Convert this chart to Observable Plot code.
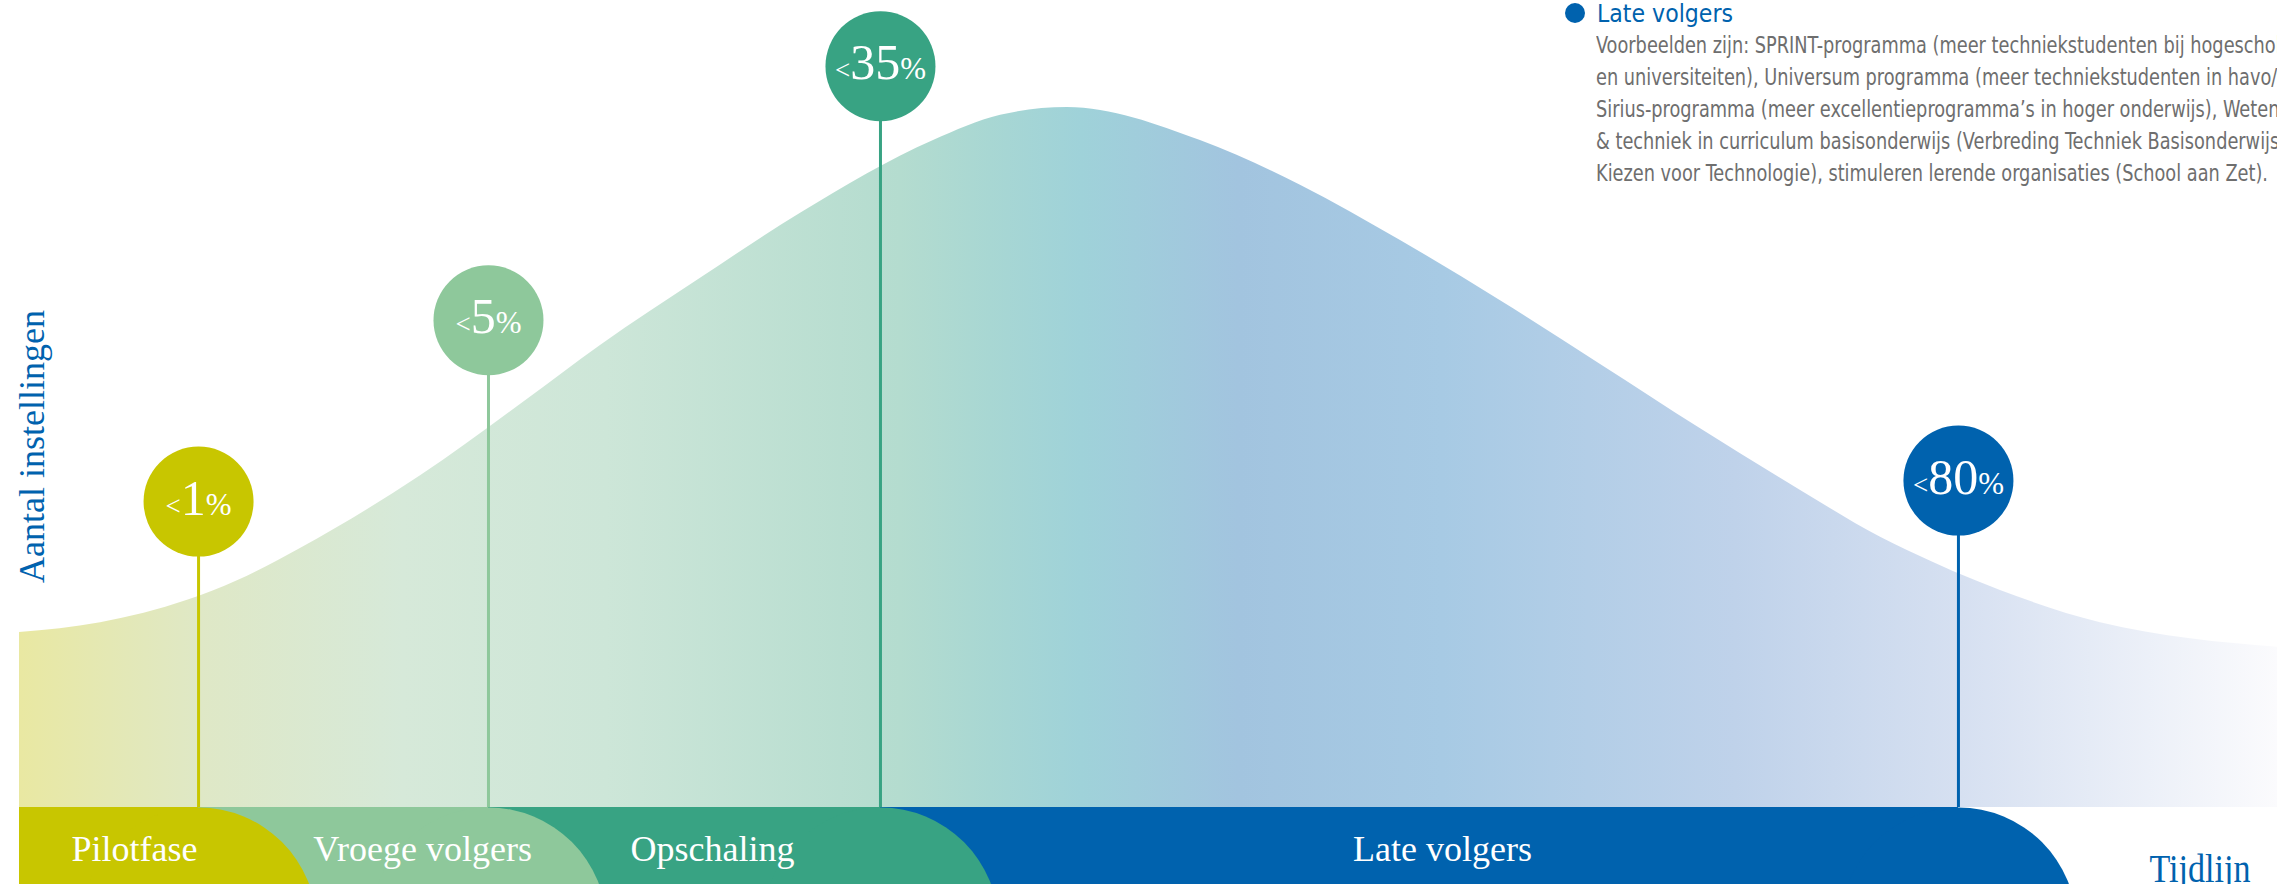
<!DOCTYPE html>
<html><head><meta charset="utf-8">
<script src="https://cdn.jsdelivr.net/npm/d3@7"></script>
<script src="https://cdn.jsdelivr.net/npm/@observablehq/plot@0.6"></script>
<style>
html,body{margin:0;padding:0;background:#fff;overflow:hidden}
#wrap{position:relative;width:2277px;height:884px;overflow:hidden;background:#fff}
#chart svg{display:block}
#legend{position:absolute;left:0;top:0;width:2277px;height:200px;pointer-events:none}
.bullet{position:absolute;left:1565px;top:3px;width:20px;height:20px;border-radius:50%;background:#0062ae}
.ltitle{position:absolute;left:1597px;top:0px;font-size:24px;line-height:29px;font-family:"Liberation Sans Narrow","Arial Narrow","DejaVu Sans Condensed",sans-serif;color:#0062ae;white-space:nowrap;transform-origin:0 0}
.lline{position:absolute;left:1596px;font-size:23px;line-height:32px;font-family:"Liberation Sans Narrow","Arial Narrow","DejaVu Sans Condensed",sans-serif;color:#6e6e6e;white-space:nowrap;transform-origin:0 0}
</style></head><body>
<div id="wrap"><div id="chart"></div><div id="legend"></div></div>
<script>
// ---- data ----
const phaseNames = ["Pilotfase", "Vroege volgers", "Opschaling", "Late volgers"];
const phaseColors = ["#c8c600", "#8ec89b", "#38a383", "#0062ae"];
const reachLabels = ["<1%", "<5%", "<35%", "<80%"];
const reachTime = [7.93, 20.77, 38.13, 85.87];      // moment on the timeline (0-100)
const markerHeight = [43.7, 69.6, 105.9, 46.7];     // height of the marker bubble
const phaseLabelTime = [5.09, 17.85, 30.69, 63.02]; // centre of phase label

const curveTime  = [0, 3.59, 7.44, 9.65, 12.44, 17.76, 22.41, 25.73, 30.16, 34.59, 40.48, 43.45, 46.41, 52.30, 56.73, 61.16, 65.59, 70.02, 74.45, 78.88, 82.42, 83.61, 87.73, 92.16, 96.15, 100];
const curveValue = [25.0, 26.4, 29.6, 32.4, 37.0, 47.4, 58.1, 66.0, 75.6, 84.9, 95.3, 98.9, 100, 95.3, 88.9, 81.0, 72.4, 63.3, 54.1, 45.3, 38.6, 36.7, 31.0, 26.4, 24.1, 22.9];

const axisLabelY = "Aantal instellingen";
const axisLabelX = "Tijdlijn";
const legendTitle = "Late volgers";
const legendText = [
  "Voorbeelden zijn: SPRINT-programma (meer techniekstudenten bij hogescholen",
  "en universiteiten), Universum programma (meer techniekstudenten in havo/vwo),",
  "Sirius-programma (meer excellentieprogramma’s in hoger onderwijs), Wetenschap",
  "& techniek in curriculum basisonderwijs (Verbreding Techniek Basisonderwijs,",
  "Kiezen voor Technologie), stimuleren lerende organisaties (School aan Zet)."
];

// ---- layout ----
const W = 2277, H = 884, mT = 107, mB = 77, mL = 19;
const pxPerUnit = (H - mT - mB) / 100;
const R = 118;                 // rounding radius of phase bands (px)
const bandBottom = -(mB + 12) / pxPerUnit;
const bandLabelBaseline = -53 / pxPerUnit;
const blue = "#0062ae";
const serif = "'Liberation Serif', 'DejaVu Serif', serif";

const gradStops = [
  [0, "#e9e8a2"], [0.08, "#dfe8c6"], [0.17, "#d6e9d9"], [0.26, "#cde6d8"],
  [0.39, "#b4dccf"], [0.43, "#a8d7d3"], [0.47, "#9fd2d9"], [0.54, "#a2c4df"],
  [0.63, "#a7cae4"], [0.76, "#bfd2ea"], [0.86, "#d6e0f1"], [1, "#fbfbfd"]
];

const phases = phaseNames.map((name, i) => ({
  name, color: phaseColors[i], label: reachLabels[i],
  t: reachTime[i], h: markerHeight[i], lt: phaseLabelTime[i]
}));
const curve = curveTime.map((t, i) => ({t, v: curveValue[i]}));

const defs = () => {
  const d = d3.create("svg:defs");
  const g = d.append("linearGradient").attr("id", "bellGrad")
    .attr("x1", 0).attr("x2", 1).attr("y1", 0).attr("y2", 0);
  for (const [o, c] of gradStops) g.append("stop").attr("offset", o).attr("stop-color", c);
  return d.node();
};

const bandMarks = phases.slice().reverse().flatMap(p => [
  Plot.rect([p], {x1: () => 0, x2: "t", y1: () => bandBottom, y2: () => 0, fill: p.color}),
  Plot.dot([p], {x: "t", y: () => -R / pxPerUnit, r: R, fill: p.color})
]);

const svg = Plot.plot({
  width: W, height: H,
  marginLeft: mL, marginRight: 0, marginTop: mT, marginBottom: mB,
  x: {domain: [0, 100], axis: null},
  y: {domain: [0, 100], axis: null},
  color: {type: "identity"},
  style: {background: "#fff"},
  marks: [
    defs,
    Plot.areaY(curve, {x: "t", y: "v", fill: "url(#bellGrad)", curve: "monotone-x"}),
    ...bandMarks,
    Plot.ruleX(phases, {x: "t", y1: () => 0, y2: "h", stroke: "color", strokeWidth: 3}),
    Plot.dot(phases, {x: "t", y: "h", r: 55, fill: "color"}),
    Plot.text(phases, {x: "t", y: "h", text: "label", fill: "white", dy: 13, lineAnchor: "bottom", fontFamily: serif, fontSize: 40}),
    Plot.text(phases, {x: "lt", y: () => bandLabelBaseline, text: "name", fill: "white", fontSize: 36, fontFamily: serif, lineAnchor: "bottom"}),
    Plot.text([axisLabelX], {frameAnchor: "bottom-right", text: d => d, textAnchor: "end", dx: -27, dy: 74, lineAnchor: "bottom", fill: blue, fontSize: 40, fontFamily: serif}),
    Plot.text([axisLabelY], {frameAnchor: "left", text: d => d, textAnchor: "middle", rotate: -90, dx: 24, dy: -11, lineAnchor: "bottom", fill: blue, fontSize: 36, fontFamily: serif})
  ]
});

const s = d3.select(svg);
// mixed-size percentages inside the bubbles
s.selectAll("text").filter(function () { return /^<\d+%$/.test(this.textContent); }).each(function () {
  const m = this.textContent.match(/^<(\d+)%$/);
  const t = d3.select(this); t.text("");
  t.append("tspan").attr("font-size", 27).text("<");
  t.append("tspan").attr("font-size", 50).attr("font-weight", 500).text(m[1]);
  t.append("tspan").attr("font-size", 31).text("%");
});
// narrow timeline label
s.selectAll("text").filter(function () { return this.textContent === axisLabelX; })
  .attr("textLength", 101).attr("lengthAdjust", "spacingAndGlyphs");

document.getElementById("chart").appendChild(svg);

// legend overlay
const lg = d3.select("#legend");
lg.append("div").attr("class", "bullet");
const title = lg.append("div").attr("class", "ltitle").text(legendTitle);
const lines = legendText.map((line, i) =>
  lg.append("div").attr("class", "lline").style("top", (29 + i * 32) + "px").text(line));
// fit the legend's narrow typeface: last line spans 672px, title 136px in the original
const lastW = lines[lines.length - 1].node().getBoundingClientRect().width;
const k = 672 / lastW;
lines.forEach(l => l.style("transform", `scaleX(${k})`));
const tW = title.node().getBoundingClientRect().width;
title.style("transform", `scaleX(${136 / tW})`);
</script></body></html>
